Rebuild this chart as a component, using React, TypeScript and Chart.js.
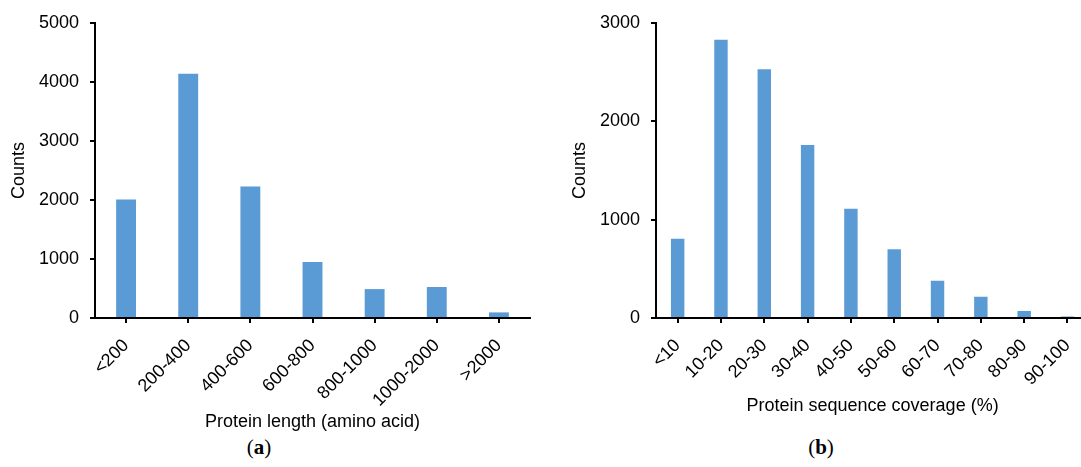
import React, { useEffect, useRef } from "react";
import { Chart, registerables } from "chart.js";

Chart.register(...registerables);

// ---- data ----
const lengthCategories = ["<200", "200-400", "400-600", "600-800", "800-1000", "1000-2000", ">2000"];
const lengthCounts = [2010, 4140, 2230, 950, 490, 525, 95];
const lengthYTicks = [0, 1000, 2000, 3000, 4000, 5000];

const coverageCategories = ["<10", "10-20", "20-30", "30-40", "40-50", "50-60", "60-70", "70-80", "80-90", "90-100"];
const coverageCounts = [805, 2830, 2530, 1760, 1110, 700, 380, 215, 70, 15];
const coverageYTicks = [0, 1000, 2000, 3000];

const BAR_COLOR = "#5B9BD5";
const FONT = "'Liberation Sans', Arial, sans-serif";

type PanelProps = {
  labels: string[];
  values: number[];
  yTicks: number[];
  xTitle: string;
  yTitlePad: number;
  axisWidth: number;
  padTop: number;
  padRight: number;
  plotBottom: number;
  height: number;
  width: number;
  barPct: number;
};

function BarPanel(p: PanelProps) {
  const ref = useRef<HTMLCanvasElement | null>(null);
  useEffect(() => {
    if (!ref.current) return;
    const yMax = p.yTicks[p.yTicks.length - 1];
    const step = p.yTicks[1] - p.yTicks[0];
    const chart = new Chart(ref.current, {
      type: "bar",
      data: {
        labels: p.labels,
        datasets: [
          {
            data: p.values,
            backgroundColor: BAR_COLOR,
            borderWidth: 0,
            categoryPercentage: 1,
            barPercentage: p.barPct,
          },
        ],
      },
      options: {
        animation: false,
        responsive: true,
        maintainAspectRatio: false,
        layout: { padding: { top: p.padTop, right: p.padRight, left: 0, bottom: 0 } },
        plugins: { legend: { display: false }, tooltip: { enabled: false } },
        scales: {
          x: {
            offset: true,
            grid: {
              offset: false,
              drawOnChartArea: false,
              drawTicks: true,
              tickLength: 5,
              color: "#000",
              lineWidth: 2,
            },
            border: { color: "#000", width: 2 },
            ticks: {
              autoSkip: false,
              minRotation: 45,
              maxRotation: 45,
              padding: 12,
              color: "#000",
              font: { family: FONT, size: 18, lineHeight: 1.2 },
            },
            title: {
              display: true,
              text: p.xTitle,
              color: "#000",
              font: { family: FONT, size: 18, lineHeight: 1.2 },
              padding: { top: 0, bottom: 0 },
            },
            afterFit: (scale: any) => {
              scale.height = p.height - p.plotBottom;
            },
          },
          y: {
            min: 0,
            max: yMax,
            grid: {
              drawOnChartArea: false,
              drawTicks: true,
              tickLength: 5,
              color: "#000",
              lineWidth: 2,
            },
            border: { color: "#000", width: 2 },
            ticks: {
              stepSize: step,
              padding: 11,
              color: "#000",
              font: { family: FONT, size: 18, lineHeight: 1.2 },
              callback: (v: any) => String(v),
            },
            title: {
              display: true,
              text: "Counts",
              color: "#000",
              font: { family: FONT, size: 18, lineHeight: 1.2 },
              padding: { top: p.yTitlePad, bottom: 0 },
            },
            afterFit: (scale: any) => {
              scale.width = p.axisWidth;
            },
          },
        },
      },
    });
    return () => chart.destroy();
  }, []);
  return (
    <div style={{ position: "relative", width: p.width, height: p.height }}>
      <canvas ref={ref} />
    </div>
  );
}

const panelLabel: React.CSSProperties = {
  position: "absolute",
  top: 434,
  width: 60,
  textAlign: "center",
  fontFamily: "'Liberation Serif', 'Times New Roman', serif",
  fontSize: 21,
  lineHeight: "26px",
  color: "#000",
};

export default function App() {
  return (
    <div
      style={{
        position: "fixed",
        left: 0,
        top: 0,
        width: 1081,
        height: 467,
        background: "#fff",
        overflow: "hidden",
      }}
    >
      <div style={{ position: "absolute", left: 0, top: 0 }}>
        <BarPanel
          labels={lengthCategories}
          values={lengthCounts}
          yTicks={lengthYTicks}
          xTitle="Protein length (amino acid)"
          yTitlePad={8}
          axisWidth={95}
          padTop={23}
          padRight={10}
          plotBottom={318}
          height={433}
          width={540}
          barPct={0.32}
        />
      </div>
      <div style={{ position: "absolute", left: 540, top: 0 }}>
        <BarPanel
          labels={coverageCategories}
          values={coverageCounts}
          yTicks={coverageYTicks}
          xTitle="Protein sequence coverage (%)"
          yTitlePad={29}
          axisWidth={116}
          padTop={23}
          padRight={5}
          plotBottom={318}
          height={417}
          width={555}
          barPct={0.31}
        />
      </div>
      <div style={{ ...panelLabel, left: 229 }}>
        (<b>a</b>)
      </div>
      <div style={{ ...panelLabel, left: 791 }}>
        (<b>b</b>)
      </div>
    </div>
  );
}
